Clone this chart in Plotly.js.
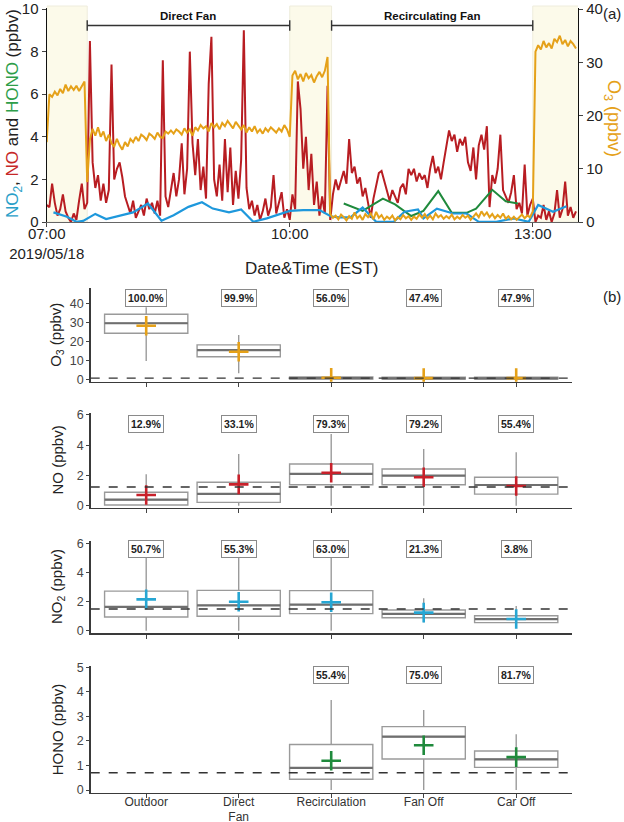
<!DOCTYPE html>
<html><head><meta charset="utf-8">
<script src="https://cdn.plot.ly/plotly-3.0.1.min.js"></script>
<style>html,body{margin:0;padding:0;background:#fff}#chart{width:624px;height:822px}</style>
</head><body><div id="chart"></div>
<script>
// ---------------- DATA: panel (a) time series ----------------
const seriesStart = '07:00';       // first sample of the 2-min NO / O3 records
const seriesStepMin = 2;
const noValues = [
 0.8,0.7,1.8,0.9,0.3,0.6,1.3,0.5,0.2,0.0, 0.4,0.1,1.0,1.8,0.6,0.9,8.5,2.8,1.6,2.2, 1.0,1.8,0.9,1.5,7.4,2.0,2.5,2.8,2.1,1.2,
 0.8,0.4,1.0,0.2,0.5,0.8,0.3,1.1,0.6,0.9, 0.4,1.0,0.3,7.6,1.2,0.7,1.5,2.3,1.2,2.0, 3.7,1.3,2.5,8.0,3.7,2.2,3.9,1.5,2.6,1.1,
 6.5,8.7,2.0,1.2,2.7,1.0,3.9,1.4,3.5,0.8, 2.4,1.1,2.9,9.0,1.6,0.6,1.0,0.3,0.8,0.1, 0.5,1.1,0.3,0.7,2.2,0.4,0.9,1.4,0.2,0.6,
 0.1,1.3,0.6,6.6,5.3,2.5,4.0,1.5,3.2,0.8, 1.9,0.3,1.2,0.4,6.4,0.1,1.3,2.0,1.5,1.9, 2.4,1.8,3.9,2.3,2.6,1.8,2.1,1.2,1.6,0.9,
 0.2,1.1,1.7,2.3,2.4,1.9,1.4,1.0,1.5,1.2, 0.9,1.6,1.8,1.3,2.5,2.2,2.5,1.9,2.3,2.0, 2.2,1.6,2.5,3.1,2.3,2.6,2.0,2.8,3.5,4.3,
 3.8,4.1,3.3,3.9,3.6,4.0,2.8,2.4,3.5,2.0, 3.6,4.1,3.4,4.5,0.7,2.2,1.8,2.5,4.1,1.5, 1.2,0.9,1.4,2.2,0.6,0.9,0.4,2.7,0.3,0.8,
 1.1,0.0,0.3,0.2,0.8,0.1,0.5,0.0,0.4,1.5,0.2,0.6,1.9,0.3,0.7,0.2,0.5
];
const o3Values = [
 15.0,24.0,23.5,24.5,23.8,25.0,24.2,25.8,24.6,25.5, 24.8,25.6,24.6,25.4,26.4,7.5,15.5,17.5,16.2,17.8, 16.0,17.0,15.2,16.4,14.8,14.2,15.6,14.4,13.6,15.0,
 14.2,15.6,15.0,16.0,15.2,16.4,16.0,15.4,16.6,16.2, 15.6,16.8,16.0,15.8,17.0,16.6,17.2,16.6,17.4,17.0, 16.4,17.6,16.8,17.4,16.2,17.8,17.2,18.2,17.6,18.0,
 17.0,18.6,17.8,18.4,17.4,18.6,18.0,19.0,18.2,17.6, 18.8,18.0,17.4,18.2,16.8,17.8,17.0,18.0,16.8,17.4, 16.6,17.6,17.0,17.8,17.2,16.8,17.6,17.0,18.2,17.4,
 16.0,27.5,28.4,26.8,27.8,26.4,28.0,27.0,27.6,26.2, 27.4,28.2,27.2,28.4,31.0,1.5,0.8,1.2,0.5,1.4, 0.9,0.3,1.1,0.6,1.8,0.7,1.2,0.4,1.5,0.9,
 1.6,0.5,1.9,0.8,1.3,0.4,1.0,0.6,1.2,0.3, 0.9,0.5,1.3,0.7,1.1,0.4,1.0,0.6,1.4,0.8, 1.5,0.6,1.2,0.5,1.6,0.9,1.3,0.6,1.1,0.7,
 1.4,0.5,1.0,0.6,1.3,0.8,1.2,0.4,1.0,1.6, 0.9,2.0,1.2,1.8,0.9,1.5,0.7,1.3,0.8,1.6, 0.6,1.1,0.5,1.0,0.4,0.9,1.4,0.7,1.2,0.9,
 2.0,32.0,33.2,32.4,34.0,32.8,33.6,32.6,34.4,33.8,35.0,33.4,34.2,33.0,34.0,33.4,32.6
];
const no2Times = ['07:05','07:15','07:22','07:27','07:36','07:44','08:04','08:15','08:25','08:34','08:45','08:55','09:03','09:15','09:24','09:33','09:43','10:00','10:10','10:22','10:31','10:37','10:45','10:54','11:04','11:17','11:25','11:35','11:39','11:49','12:01','12:11','12:20','12:33','12:46','12:57','13:04','13:15','13:25'];
const no2Values = [0.45,0.25,0.01,0.05,0.38,0.14,0.45,0.87,0.06,0.32,0.71,0.93,0.63,0.45,0.59,0.01,0.17,0.52,0.56,0.56,0.25,0.22,0.22,0.68,0.01,0.01,0.48,0.59,0.17,0.63,0.40,0.40,0.01,0.01,0.17,0.01,0.80,0.48,0.74];
const honoTimes = ['10:40','10:54','11:09','11:18','11:30','11:39','11:50','12:00','12:11','12:18','12:30','12:40','12:49'];
const honoValues = [0.87,0.52,1.10,0.83,0.28,0.52,1.45,0.43,0.43,0.63,1.51,0.97,0.87];
const shadedPeriods = [['07:00','07:30'],['10:00','10:31'],['13:00','13:34']];
const fanPeriodNames = ['Direct Fan','Recirculating Fan'];
const fanPeriodStart = ['07:30','10:31'];
const fanPeriodEnd = ['10:00','13:00'];
const axisStart = '07:00', axisEnd = '13:33.5';
const timeTicks = ['07:00','10:00','13:00'];
const timeTickText = ['07:00<br>2019/05/18','10:00','13:00'];

// ---------------- DATA: panel (b) box summaries ----------------
const categories = ['Outdoor','Direct<br>Fan','Recirculation','Fan Off','Car Off'];
const o3Q1 = [24.2,11.9,0.2,0.1,0.1], o3Med = [29.5,15.4,0.6,0.5,0.5], o3Q3 = [34.2,18.1,1.3,1.1,1.1];
const o3Low = [9.6,3.2,0,0,0], o3High = [37.9,23.3,2.5,2.0,2.0], o3Mean = [28.2,14.5,0.8,0.6,0.6];
const o3Pct = ['100.0%','99.9%','56.0%','47.4%','47.9%'], o3Lod = 0.6;
const noQ1 = [0.05,0.22,1.39,1.39,0.77], noMed = [0.40,0.79,2.10,1.99,1.37], noQ3 = [0.89,1.55,2.76,2.43,1.88];
const noLow = [0,0,0,0,0], noHigh = [2.08,3.42,4.74,3.75,3.53], noMean = [0.71,1.41,2.18,1.88,1.30];
const noPct = ['12.9%','33.1%','79.3%','79.2%','55.4%'], noLod = 1.24;
const no2Q1 = [0.94,0.99,1.17,0.89,0.55], no2Med = [1.63,1.74,1.79,1.15,0.80], no2Q3 = [2.72,2.77,2.75,1.42,1.03];
const no2Low = [0,0,0,0.58,0.23], no2High = [5.3,5.3,5.3,2.22,1.70], no2Mean = [2.15,1.99,1.95,1.24,0.80];
const no2Pct = ['50.7%','55.3%','63.0%','21.3%','3.8%'], no2Lod = 1.49;
const honoCats = ['Recirculation','Fan Off','Car Off'];
const honoQ1 = [0.44,1.26,0.92], honoMed = [0.90,2.17,1.25], honoQ3 = [1.85,2.58,1.59];
const honoLow = [0,0,0], honoHigh = [3.67,3.26,2.27], honoMean = [1.19,1.82,1.34];
const honoPct = ['55.4%','75.0%','81.7%'], honoLod = 0.70;

// ---------------- helpers ----------------
const pad = n => String(n).padStart(2,'0');
function toMin(hm){ const p = hm.split(':'); return (+p[0])*60 + parseFloat(p[1]); }
function ts(mins){ const h=Math.floor(mins/60), m=Math.floor(mins%60), s=Math.round((mins*60)%60);
  return `2019-05-18 ${pad(h)}:${pad(m)}:${pad(s)}`; }
const T = hm => ts(toMin(hm));
function gridTimes(n){ const s=toMin(seriesStart); const out=[]; for(let i=0;i<n;i++) out.push(ts(s+i*seriesStepMin)); return out; }
const W=624, H=822;
const px = x => x/W, py = y => 1 - y/H;

const C = {no:'#b81d22', o3:'#e5a119', no2:'#1e98dc', hono:'#1f8a3c',
           no2Txt:'#2aa0c8', noTxt:'#c62828', honoTxt:'#2e9e4a', o3Txt:'#e5a119'};
const FONT = 'Liberation Sans, Arial, sans-serif';

// ---------------- traces ----------------
const traces = [];
traces.push({x:gridTimes(o3Values.length), y:o3Values, yaxis:'y2', xaxis:'x', type:'scatter', mode:'lines',
  line:{color:C.o3, width:2}, hoverinfo:'skip'});
traces.push({x:gridTimes(noValues.length), y:noValues, xaxis:'x', yaxis:'y', type:'scatter', mode:'lines',
  line:{color:C.no, width:2}, hoverinfo:'skip'});
traces.push({x:honoTimes.map(T), y:honoValues, xaxis:'x', yaxis:'y', type:'scatter', mode:'lines',
  line:{color:C.hono, width:2}, hoverinfo:'skip'});
traces.push({x:no2Times.map(T), y:no2Values, xaxis:'x', yaxis:'y', type:'scatter', mode:'lines',
  line:{color:C.no2, width:2.2}, hoverinfo:'skip'});

const panels = [
  {cats:categories, q1:o3Q1, med:o3Med, q3:o3Q3, lo:o3Low, hi:o3High, mean:o3Mean, pct:o3Pct, lod:o3Lod, color:C.o3,
   xa:'x2', ya:'y3', range:[-1.26,48.05], ticks:[0,10,20,30,40], labelY:42.8, title:'O<sub>3</sub> (ppbv)',
   top:288, bot:381.7},
  {cats:categories, q1:noQ1, med:noMed, q3:noQ3, lo:noLow, hi:noHigh, mean:noMean, pct:noPct, lod:noLod, color:'#c8202a',
   xa:'x3', ya:'y4', range:[-0.13,6.11], ticks:[0,2,4,6], labelY:5.4, title:'NO (ppbv)', top:413.3, bot:507.7},
  {cats:categories, q1:no2Q1, med:no2Med, q3:no2Q3, lo:no2Low, hi:no2High, mean:no2Mean, pct:no2Pct, lod:no2Lod, color:'#27a6d3',
   xa:'x4', ya:'y5', range:[-0.16,6.16], ticks:[0,2,4,6], labelY:5.6, title:'NO<sub>2</sub> (ppbv)', top:541, bot:633},
  {cats:honoCats, q1:honoQ1, med:honoMed, q3:honoQ3, lo:honoLow, hi:honoHigh, mean:honoMean, pct:honoPct, lod:honoLod, color:C.hono,
   xa:'x5', ya:'y6', range:[-0.11,5.05], ticks:[0,1,2,3,4,5], labelY:4.7, title:'HONO (ppbv)', top:666, bot:792.7}
];

const BOXW = 0.9;
panels.forEach(p => {
  const xs = p.cats.map(c => categories.indexOf(c));
  traces.push({type:'box', orientation:'v', x:xs, q1:p.q1, median:p.med, q3:p.q3, lowerfence:p.lo, upperfence:p.hi,
    xaxis:p.xa, yaxis:p.ya, width:BOXW, whiskerwidth:0, boxpoints:false, fillcolor:'rgba(255,255,255,0)',
    line:{color:'#9a9a9a', width:1.4}, hoverinfo:'skip'});
  const mx=[], my=[];
  xs.forEach((x,i)=>{ mx.push(x-BOXW/2, x+BOXW/2, null); my.push(p.med[i], p.med[i], null); });
  traces.push({type:'scatter', mode:'lines', x:mx, y:my, xaxis:p.xa, yaxis:p.ya, line:{color:'#6f6f6f', width:2.2}, hoverinfo:'skip'});
  traces.push({type:'scatter', mode:'markers', x:xs, y:p.mean, xaxis:p.xa, yaxis:p.ya,
    marker:{symbol:'cross-thin', size:14, color:p.color, line:{width:2.6, color:p.color}}, hoverinfo:'skip'});
});

// ---------------- layout ----------------
const shapes = [], annotations = [];
shadedPeriods.forEach(sp => shapes.push({type:'rect', xref:'x', yref:'paper', x0:T(sp[0]), x1:T(sp[1]),
  y0:py(222), y1:py(6), fillcolor:'#fcfaea', line:{color:'#eeecdc', width:1}, layer:'below'}));
fanPeriodNames.forEach((nm,i) => {
  const a = T(fanPeriodStart[i]), b = T(fanPeriodEnd[i]);
  shapes.push({type:'line', xref:'x', yref:'y', x0:a, x1:b, y0:9.23, y1:9.23, line:{color:'#333', width:1.4}});
  shapes.push({type:'line', xref:'x', yref:'y', x0:a, x1:a, y0:8.98, y1:9.48, line:{color:'#333', width:1.4}});
  shapes.push({type:'line', xref:'x', yref:'y', x0:b, x1:b, y0:8.98, y1:9.48, line:{color:'#333', width:1.4}});
  const mid = ts((toMin(fanPeriodStart[i]) + toMin(fanPeriodEnd[i]))/2);
  annotations.push({xref:'x', yref:'y', x:mid, y:9.3, yanchor:'bottom', xanchor:'center', showarrow:false,
    text:'<b>'+nm+'</b>', font:{size:11.5, color:'#111', family:FONT}});
});

const layout = {
  width:W, height:H, margin:{l:0,r:0,t:0,b:0}, showlegend:false, paper_bgcolor:'#fff', plot_bgcolor:'rgba(0,0,0,0)',
  font:{family:FONT, color:'#222'}, boxmode:'overlay',
  xaxis:{domain:[px(46.7), px(578)], anchor:'y', type:'date', range:[T(axisStart), T(axisEnd)],
    tickvals:timeTicks.map(T), ticktext:timeTickText, ticks:'outside', ticklen:4, tickcolor:'#444', ticklabelstandoff:-6,
    showline:true, linecolor:'#666', linewidth:1, showgrid:false, zeroline:false, tickfont:{size:15, color:'#222'}},
  yaxis:{domain:[py(222), py(8)], anchor:'x', range:[0,10.05], tickvals:[0,2,4,6,8,10], ticks:'outside', ticklen:4,
    ticklabeloverflow:'allow',
    showline:true, linecolor:'#111', linewidth:1.2, showgrid:false, zeroline:false, tickfont:{size:15, color:'#222'}},
  yaxis2:{overlaying:'y', side:'right', anchor:'x', range:[0,40.2], tickvals:[0,10,20,30,40], ticks:'outside', ticklen:4,
    ticklabeloverflow:'allow',
    showline:true, linecolor:'#111', linewidth:1.2, showgrid:false, zeroline:false, tickfont:{size:15, color:'#222'}},
  shapes:shapes, annotations:annotations
};

panels.forEach((p,k) => {
  const xn = 'xaxis'+(k+2), yn = 'yaxis'+(k+3);
  layout[xn] = {domain:[px(90.7), px(571.7)], anchor:p.ya, range:[-0.6,4.6], tickvals:[0,1,2,3,4], ticktext:categories,
    showticklabels:k===3, ticks:'outside', ticklen:4, tickcolor:'#444', showline:true, linecolor:'#3a3a3a', linewidth:1.6,
    showgrid:false, zeroline:false, tickfont:{size:12, color:'#333'}, ticklabelstandoff:-7, ticklabeloverflow:'allow'};
  layout[yn] = {domain:[py(p.bot), py(p.top)], anchor:p.xa, range:p.range, tickvals:p.ticks, ticks:'outside', ticklen:3,
    tickcolor:'#444', showline:true, linecolor:'#3a3a3a', linewidth:1.6, showgrid:false, zeroline:false,
    tickfont:{size:12.5, color:'#444'}};
  shapes.push({type:'line', xref:p.xa+' domain', yref:p.ya, x0:0, x1:1, y0:p.lod, y1:p.lod,
    line:{color:'#333', width:1.4, dash:'dash'}});
  p.cats.forEach((c,i) => annotations.push({xref:p.xa, yref:p.ya, x:categories.indexOf(c), y:p.labelY, showarrow:false,
    xanchor:'center', yanchor:'middle',
    text:'<b>'+p.pct[i]+'</b>', font:{size:10.5, color:'#222', family:FONT}, bgcolor:'#fff', bordercolor:'#8a8a8a',
    borderwidth:1, borderpad:2}));
  annotations.push({xref:'paper', yref:'paper', x:px(57), y:py((p.top+p.bot)/2), textangle:-90, showarrow:false,
    xanchor:'center', yanchor:'middle', text:p.title, font:{size:15, color:'#222', family:FONT}});
});

// panel (a) titles
annotations.push({xref:'paper', yref:'paper', x:px(14), y:py(114), textangle:-90, showarrow:false,
  xanchor:'center', yanchor:'middle',
  text:'<span style="color:'+C.no2Txt+'">NO<sub>2</sub></span>, <span style="color:'+C.noTxt+'">NO</span> and <span style="color:'+C.honoTxt+'">HONO</span> (ppbv)',
  font:{size:17, color:'#222', family:FONT}});
annotations.push({xref:'paper', yref:'paper', x:px(612), y:py(118), textangle:90, showarrow:false,
  xanchor:'center', yanchor:'middle', text:'O<sub>3</sub> (ppbv)', font:{size:18, color:C.o3Txt, family:FONT}});
annotations.push({xref:'paper', yref:'paper', x:px(312), y:py(268), showarrow:false, xanchor:'center', yanchor:'middle',
  text:'Date&amp;Time (EST)', font:{size:17, color:'#222', family:FONT}});
annotations.push({xref:'paper', yref:'paper', x:px(612), y:py(13), showarrow:false, xanchor:'center', yanchor:'middle',
  text:'(a)', font:{size:15, color:'#222', family:FONT}});
annotations.push({xref:'paper', yref:'paper', x:px(612), y:py(296), showarrow:false, xanchor:'center', yanchor:'middle',
  text:'(b)', font:{size:15, color:'#222', family:FONT}});

Plotly.newPlot('chart', traces, layout, {staticPlot:true, displayModeBar:false});
</script></body></html>
